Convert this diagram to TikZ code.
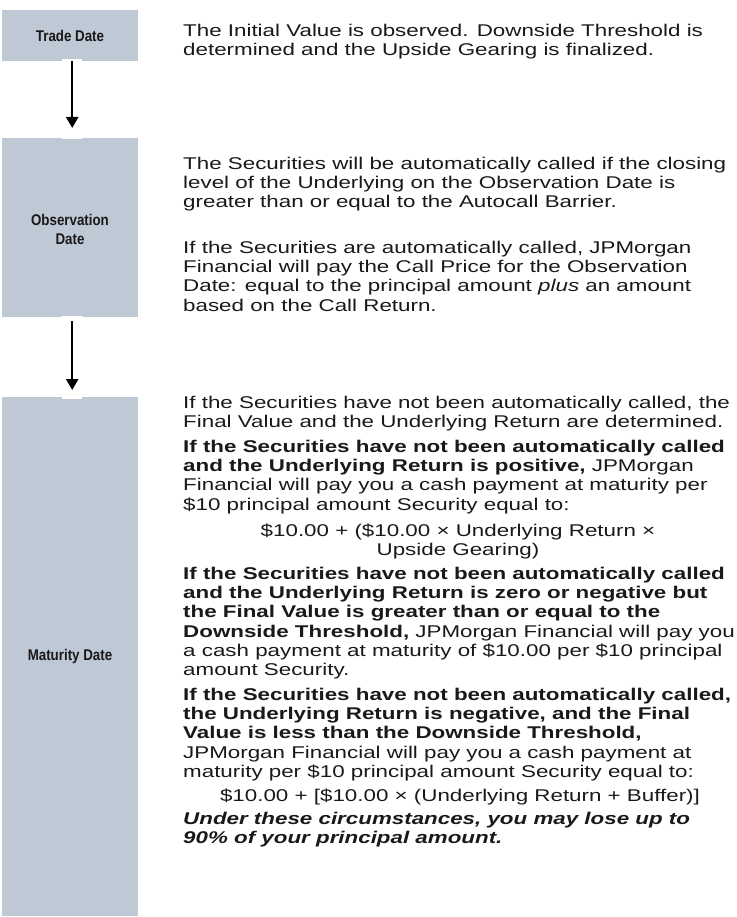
\documentclass[tikz,border=0pt]{standalone}
\usepackage{fontspec}
\setmainfont{Liberation Sans}
\newfontfamily\bodyf[FakeStretch=1.315]{Liberation Sans}
\newfontfamily\labf[FakeStretch=0.86]{Liberation Sans}
\usetikzlibrary{arrows.meta}
\definecolor{boxfill}{RGB}{191,200,213}
\definecolor{txt}{RGB}{25,25,25}
\tikzset{
  stagebox/.style={fill=boxfill, draw=none, minimum width=136pt, inner sep=0pt, anchor=north west},
  stagelabel/.style={font=\labf\fontsize{15.5}{19}\selectfont\bfseries, text=txt, align=center},
  para/.style={anchor=north west, inner sep=0pt, align=left, text=txt,
               font=\bodyf\fontsize{17}{19.2}\selectfont},
  formula/.style={anchor=north, inner sep=0pt, align=center, text=txt,
               font=\bodyf\fontsize{17}{19.2}\selectfont},
  flowarrow/.style={line width=2.4pt, -{Triangle[width=12pt,length=11pt]}, black},
  gapfill/.style={fill=white, draw=none}
}
\begin{document}
\begin{tikzpicture}[x=1pt,y=-1pt]
\useasboundingbox (0,0) rectangle (736,917);
% stage boxes
\node[stagebox, minimum height=51pt] (b1) at (2,10) {};
\node[stagebox, minimum height=179pt] (b2) at (2,138) {};
\node[stagebox, minimum height=519pt] (b3) at (2,397) {};
\node[stagelabel] (l1) at (70,36) {Trade Date};
\node[stagelabel] (l2) at (70,229) {Observation\\Date};
\node[stagelabel] (l3) at (70,656) {Maturity Date};
% arrow gaps
\fill[gapfill] (62,59.5) rectangle (82,139.5);
\fill[gapfill] (62,315.5) rectangle (82,398.5);
% arrows
\draw[flowarrow] ([xshift=2pt]b1.south) -- ([xshift=2pt,yshift=10pt]b2.north);
\draw[flowarrow] ([xshift=2pt,yshift=-4pt]b2.south) -- ([xshift=2pt,yshift=7pt]b3.north);
% texts
\node[para] (t1) at (183,24) {The Initial Value is observed. Downside Threshold is\\determined and the Upside Gearing is finalized.};
\node[para] (t2) at (183,157) {The Securities will be automatically called if the closing\\level of the Underlying on the Observation Date is\\greater than or equal to the Autocall Barrier.};
\node[para] (t3) at (183,241) {If the Securities are automatically called, JPMorgan\\Financial will pay the Call Price for the Observation\\Date: equal to the principal amount \textit{plus} an amount\\based on the Call Return.};
\node[para] (t4) at (183,396) {If the Securities have not been automatically called, the\\Final Value and the Underlying Return are determined.};
\node[para] (t5) at (183,440) {\textbf{If the Securities have not been automatically called}\\\textbf{and the Underlying Return is positive,} JPMorgan\\Financial will pay you a cash payment at maturity per\\\$10 principal amount Security equal to:};
\node[formula] (t6) at (458,524) {\$10.00 + (\$10.00 × Underlying Return ×\\Upside Gearing)};
\node[para] (t7) at (183,567) {\textbf{If the Securities have not been automatically called}\\\textbf{and the Underlying Return is zero or negative but}\\\textbf{the Final Value is greater than or equal to the}\\\textbf{Downside Threshold,} JPMorgan Financial will pay you\\a cash payment at maturity of \$10.00 per \$10 principal\\amount Security.};
\node[formula] (t9) at (460,789) {\$10.00 + [\$10.00 × (Underlying Return + Buffer)]};
\node[para] (t8) at (183,688) {\textbf{If the Securities have not been automatically called,}\\\textbf{the Underlying Return is negative, and the Final}\\\textbf{Value is less than the Downside Threshold,}\\JPMorgan Financial will pay you a cash payment at\\maturity per \$10 principal amount Security equal to:};
\node[para] (t10) at (183,812) {\textbf{\textit{Under these circumstances, you may lose up to}}\\\textbf{\textit{90\% of your principal amount.}}};
\end{tikzpicture}
\end{document}
